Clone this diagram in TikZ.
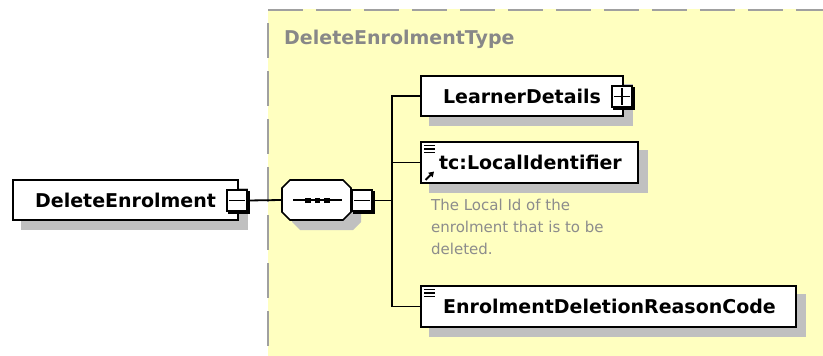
\documentclass[tikz,border=0pt]{standalone}
\usepackage{fontspec}
\setmainfont{DejaVu Sans}
\usetikzlibrary{shadows,arrows.meta}
\definecolor{bgyellow}{RGB}{255,255,192}
\definecolor{shadowgray}{RGB}{192,192,192}
\definecolor{bordergray}{RGB}{160,160,160}
\definecolor{titlegray}{RGB}{136,136,136}
\definecolor{descgray}{RGB}{140,140,140}
\begin{document}
\begin{tikzpicture}[x=1pt,y=-1pt,
  elembox/.style={draw=black, line width=1.6pt, fill=white, minimum height=40pt,
    inner sep=0pt, font=\fontsize{19}{23}\selectfont\bfseries,
    copy shadow={shadow xshift=9pt, shadow yshift=-9pt, fill=shadowgray, draw=shadowgray}},
  pmbox/.style={draw=black, line width=1.3pt, fill=white, minimum width=20pt,
    minimum height=21pt, inner sep=0pt,
    copy shadow={shadow xshift=2pt, shadow yshift=-2pt, fill=black, draw=black}},
  conn/.style={draw=black, line width=1.8pt},
  pmline/.style={draw=black, line width=1.2pt},
  iconline/.style={draw=black, line width=1.1pt},
  dashborder/.style={draw=bordergray, line width=2pt, dash pattern=on 35pt off 13pt}
]
\useasboundingbox (0,0) rectangle (823,356);
% background of the complex type
\fill[bgyellow] (268,9) rectangle (823,356);
\draw[dashborder] (268,10) -- (823,10);
\draw[dashborder, dash phase=35pt] (268,10) -- (268,356);
\node[anchor=west, text=titlegray, font=\fontsize{19}{23}\selectfont\bfseries, inner sep=0pt] (title) at (284,39) {DeleteEnrolmentType};

% root element
\node[elembox, minimum width=225pt] (root) at (125.5,200) {DeleteEnrolment};
\node[pmbox] (rootpm) at (237,200.5) {};
\draw[pmline] ([xshift=3pt]rootpm.west) -- ([xshift=-3pt]rootpm.east);

% sequence compositor
\fill[shadowgray] (300,190) -- (353,190) -- (361,198) -- (361,222) -- (353,230) -- (300,230) -- (292,222) -- (292,198) -- cycle;
\filldraw[fill=white, draw=black, line width=1.6pt] (290,180) -- (343,180) -- (351,188) -- (351,212) -- (343,220) -- (290,220) -- (282,212) -- (282,188) -- cycle;
\node[minimum width=69pt, minimum height=40pt, inner sep=0pt] (seq) at (316.5,200) {};
\draw[line width=1.4pt] (293,200) -- (342,200);
\fill (305,197.5) rectangle (310.5,203);
\fill (314.5,197.5) rectangle (320,203);
\fill (324,197.5) rectangle (329.5,203);
\node[pmbox] (seqpm) at (362,200.5) {};
\draw[pmline] ([xshift=3pt]seqpm.west) -- ([xshift=-3pt]seqpm.east);

\coordinate (bus) at (392,200.5);

% children
\node[elembox, minimum width=202pt] (ld) at (522,96) {LearnerDetails};
\node[pmbox] (ldpm) at (622,96.5) {};
\draw[pmline] ([xshift=3pt]ldpm.west) -- ([xshift=-3pt]ldpm.east);
\draw[pmline] ([yshift=-3pt]ldpm.north) -- ([yshift=3pt]ldpm.south);

\node[elembox, minimum width=217pt, minimum height=41pt] (lid) at (529.5,162.5) {\hspace*{2pt}tc:LocalIdentifier};
\draw[iconline] (424,145.5) -- (435,145.5);
\draw[iconline] (424,149) -- (435,149);
\draw[iconline] (424,152.5) -- (435,152.5);
\draw[line width=1.8pt, -{Triangle[length=5pt,width=6pt]}] (425.5,180) -- (434,171.5);

\node[anchor=north west, align=left, inner sep=0pt, text=descgray,
  font=\fontsize{15}{22}\selectfont] (desc) at (431,199) {The Local Id of the\\enrolment that is to be\\deleted.};

\node[elembox, minimum width=375pt, minimum height=41pt] (edrc) at (608.5,306.5) {\hspace*{2pt}EnrolmentDeletionReasonCode};
\draw[iconline] (424,289.5) -- (435,289.5);
\draw[iconline] (424,293) -- (435,293);
\draw[iconline] (424,296.5) -- (435,296.5);

% connectors
\draw[conn] (rootpm.east) -- (seq.west);
\draw[conn] (seqpm.east) -- (bus);
\draw[conn] (bus) |- (ld.west);
\draw[conn] (bus) |- (lid.west);
\draw[conn] (bus) |- (edrc.west);
\end{tikzpicture}
\end{document}
